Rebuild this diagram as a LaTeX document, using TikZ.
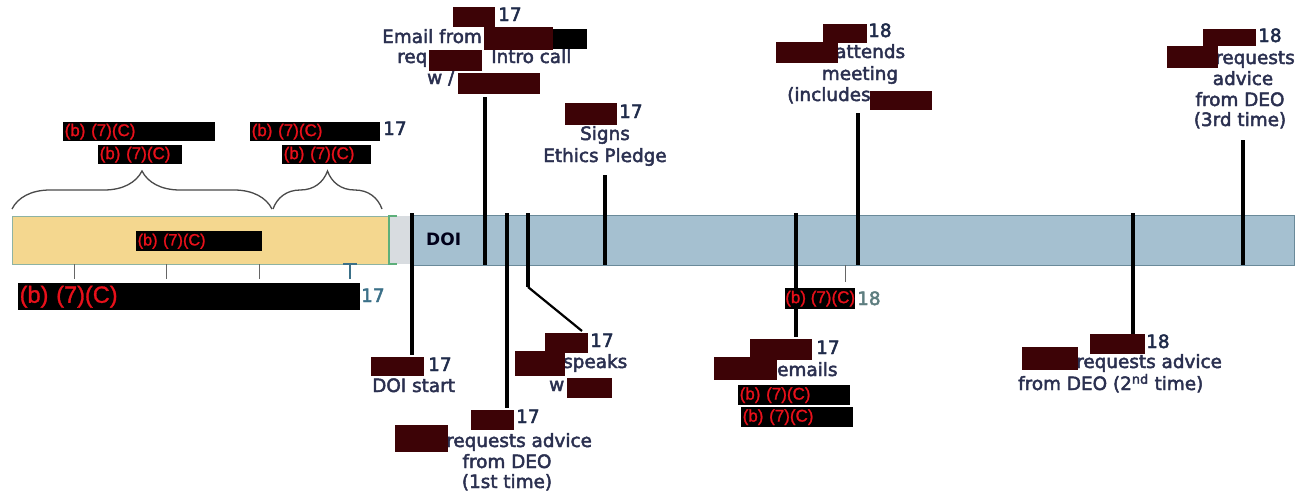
\documentclass[tikz,border=0pt]{standalone}
\usepackage{fontspec}
\setmainfont{DejaVu Sans}
\newfontfamily\lblfont{DejaVu Sans}[RawFeature={embolden=2.5}]
\newfontfamily\arialf{Liberation Sans}[RawFeature={embolden=1.2}]
\usetikzlibrary{decorations.pathreplacing}
\definecolor{txtc}{HTML}{2B3050}
\definecolor{numc}{HTML}{1F2B4A}
\definecolor{redactc}{HTML}{3D0306}
\definecolor{redc}{HTML}{E8101A}
\definecolor{yel}{HTML}{F4D78F}
\definecolor{yelb}{HTML}{8DB3A3}
\definecolor{blu}{HTML}{A5C0D0}
\definecolor{blub}{HTML}{6A8A9A}
\definecolor{grayseg}{HTML}{D8DCE0}
\definecolor{tealc}{HTML}{3B7088}
\definecolor{gteal}{HTML}{5E7E80}
\definecolor{bracec}{HTML}{4A4A4A}
\definecolor{grn}{HTML}{5DAF7A}
\tikzset{
 lbl/.style={font=\lblfont\fontsize{18.4pt}{22pt}\selectfont, text=txtc, inner sep=0pt, anchor=base west},
 lblc/.style={lbl, anchor=base},
 num/.style={lbl, text=numc},
 rd/.style={fill=redactc, draw=none, inner sep=0pt, anchor=north west},
 bk/.style={fill=black, draw=none, text=redc, inner xsep=1.5pt, inner ysep=0pt, anchor=north west, align=left, font=\arialf\fontsize{17pt}{19pt}\selectfont},
 tl/.style={line width=3.5pt, black},
 tickc/.style={line width=1pt, black!60},
 bracestyle/.style={decorate, decoration={brace, amplitude=38pt}, line width=1.3pt, draw=bracec}
}
\begin{document}
\begin{tikzpicture}[x=1pt, y=-1pt]
\useasboundingbox (0,0) rectangle (1304,496);
\fill[white] (0,0) rectangle (1304,496);
% bars
\path[fill=yel, draw=yelb, line width=0.8pt] (12,216) rectangle (390,264);
\path[fill=grayseg] (390,216) rectangle (412,264);
\path[fill=blu, draw=blub, line width=0.9pt] (412,215) rectangle (1294,265);
\draw[grn, line width=1.2pt] (397,216) -- (389,216) -- (389,264) -- (397,264);
\node[font=\bfseries\fontsize{17pt}{20pt}\selectfont, text=black!90!blue, inner sep=0pt, anchor=base west] (doi) at (426,245) {DOI};
% braces
\coordinate (b1a) at (12,209); \coordinate (b1b) at (272,209);
\coordinate (b2a) at (273,209); \coordinate (b2b) at (382,209);
\draw[bracestyle] (b1a) -- (b1b);
\draw[bracestyle] (b2a) -- (b2b);
% ticks
\foreach \x in {74,166,259} {\draw[tickc] (\x,264) -- (\x,279);}
\draw[tealc, line width=1.2pt] (343,264) -- (357,264) (350,264) -- (350,279);
\draw[tickc] (845,265) -- (845,282);
% timeline connectors
\coordinate (c1t) at (412,213); \coordinate (c1b) at (412,355);
\coordinate (c2t) at (485,97);  \coordinate (c2b) at (485,265);
\coordinate (c3t) at (507,213); \coordinate (c3b) at (507,408);
\coordinate (c4t) at (528,213); \coordinate (c4m) at (528,287); \coordinate (c4b) at (582,331);
\coordinate (c5t) at (605,175); \coordinate (c5b) at (605,265);
\coordinate (c6t) at (796,213); \coordinate (c6b) at (796,337);
\coordinate (c7t) at (858,113); \coordinate (c7b) at (858,265);
\coordinate (c8t) at (1133,213); \coordinate (c8b) at (1133,335);
\coordinate (c9t) at (1243,140); \coordinate (c9b) at (1243,265);
\draw[tl] (c1t) -- (c1b);
\draw[tl] (c2t) -- (c2b);
\draw[tl] (c3t) -- (c3b);
\draw[tl] (c4t) -- (c4m);
\draw[line width=2.2pt] (c4m) -- (c4b);
\draw[tl] (c5t) -- (c5b);
\draw[tl] (c6t) -- (c6b);
\draw[tl] (c7t) -- (c7b);
\draw[tl] (c8t) -- (c8b);
\draw[tl] (c9t) -- (c9b);
% left black/red redactions
\node[bk, text width=149pt, minimum height=19pt] (r1) at (63,122) {(b) (7)(C)};
\node[bk, text width=81pt, minimum height=19pt] (r2) at (98,145) {(b) (7)(C)};
\node[bk, text width=127pt, minimum height=19pt] (r3) at (250,122) {(b) (7)(C)};
\node[num] (n3) at (383,135) {17};
\node[bk, text width=86pt, minimum height=19pt] (r4) at (282,145) {(b) (7)(C)};
\node[bk, text width=123pt, minimum height=20pt, font=\arialf\fontsize{16.3pt}{18pt}\selectfont] (r5) at (136,231) {(b) (7)(C)};
\node[bk, text width=339pt, minimum height=27pt, font=\arialf\fontsize{23.5pt}{26pt}\selectfont] (r6) at (18,283) {(b) (7)(C)};
\node[num, text=tealc] (n6) at (361,302) {17};
% email group
\node[lbl] (e2) at (382,43) {Email from};
\node[lbl] (e3) at (397,63) {req};
\node[lbl] (e4) at (491,63) {Intro call};
\node[lbl] (e5) at (427,84) {w /};
\node[num] (e1n) at (498,21) {17};
\node[rd, minimum width=42pt, minimum height=20pt] (e1) at (453,7) {};
\node[rd, minimum width=69pt, minimum height=23pt] (e2r) at (484,27) {};
\node[fill=black, inner sep=0pt, anchor=north west, minimum width=34pt, minimum height=20pt] (e2k) at (553,29) {};
\node[rd, minimum width=53pt, minimum height=21pt] (e3r) at (429,50) {};
\node[rd, minimum width=82pt, minimum height=21pt] (e5r) at (458,73) {};
% signs group
\node[rd, minimum width=52pt, minimum height=22pt] (s1) at (565,103) {};
\node[num] (s1n) at (619,118) {17};
\node[lblc] (s2) at (605,140) {Signs};
\node[lblc] (s3) at (605,162) {Ethics Pledge};
% attends group
\node[lbl] (a2) at (835,58) {attends};
\node[lblc] (a3) at (860,80) {meeting};
\node[lbl] (a4) at (787,101) {(includes};
\node[rd, minimum width=44pt, minimum height=19pt] (a1) at (823,24) {};
\node[num] (a1n) at (868,37) {18};
\node[rd, minimum width=62pt, minimum height=21pt] (a2r) at (776,42) {};
\node[rd, minimum width=62pt, minimum height=19pt] (a4r) at (870,91) {};
% third time
\node[lbl] (t2) at (1215,64) {requests};
\node[lblc] (t3) at (1243,85) {advice};
\node[lblc] (t4) at (1240,106) {from DEO};
\node[lblc] (t5) at (1240,126) {(3rd time)};
\node[rd, minimum width=53pt, minimum height=17pt] (t1) at (1203,29) {};
\node[num] (t1n) at (1258,42) {18};
\node[rd, minimum width=51pt, minimum height=22pt] (t2r) at (1167,46) {};
% DOI start
\node[rd, minimum width=53pt, minimum height=19pt] (d1) at (371,357) {};
\node[num] (d1n) at (428,371) {17};
\node[lbl] (d2) at (372,392) {DOI start};
% first time
\node[lbl] (f2) at (446,447) {requests advice};
\node[lblc] (f3) at (507,468) {from DEO};
\node[lblc] (f4) at (507,488) {(1st time)};
\node[rd, minimum width=43pt, minimum height=20pt] (f1) at (471,410) {};
\node[num] (f1n) at (516,423) {17};
\node[rd, minimum width=53pt, minimum height=27pt] (f2r) at (395,425) {};
% speaks
\node[lbl] (p2) at (563,368) {speaks};
\node[lbl] (p3) at (549,391) {w};
\node[rd, minimum width=43pt, minimum height=20pt] (p1) at (545,333) {};
\node[num] (p1n) at (590,347) {17};
\node[rd, minimum width=50pt, minimum height=25pt] (p2r) at (515,351) {};
\node[rd, minimum width=45pt, minimum height=20pt] (p3r) at (567,378) {};
% emails
\node[bk, inner xsep=0pt, minimum width=70pt, minimum height=21pt] (m0) at (785,288) {(b) (7)(C)};
\node[lbl, text=gteal] (m0n) at (857,305) {18};
\node[lbl] (m2) at (777,376) {emails};
\node[rd, minimum width=62pt, minimum height=21pt] (m1) at (750,339) {};
\node[num] (m1n) at (816,354) {17};
\node[rd, minimum width=63pt, minimum height=23pt] (m2r) at (714,357) {};
\node[bk, text width=109pt, minimum height=20pt] (m3) at (738,385) {(b) (7)(C)};
\node[bk, text width=109pt, minimum height=20pt] (m4) at (741,407) {(b) (7)(C)};
% second time
\node[lbl] (g2) at (1076,368) {requests advice};
\node[lbl] (g3) at (1018,390) {from DEO (2\textsuperscript{nd} time)};
\node[rd, minimum width=55pt, minimum height=20pt] (g1) at (1090,334) {};
\node[num] (g1n) at (1146,348) {18};
\node[rd, minimum width=56pt, minimum height=23pt] (g2r) at (1022,347) {};
\end{tikzpicture}
\end{document}
